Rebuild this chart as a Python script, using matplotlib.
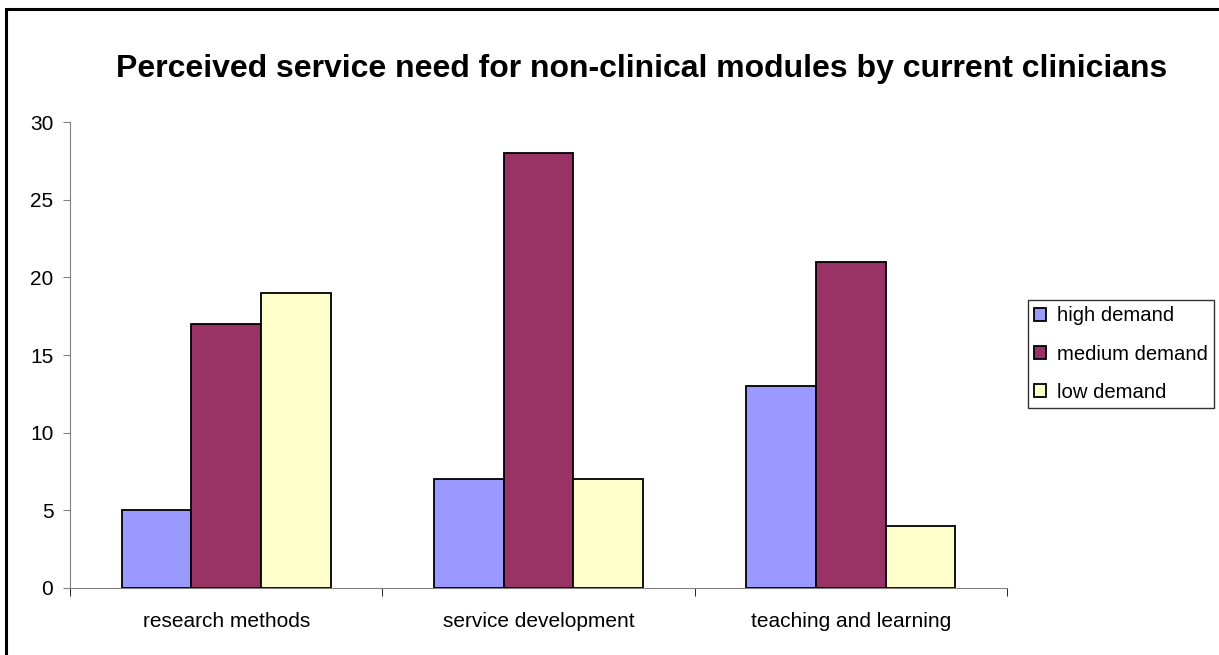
import numpy as np
import matplotlib.pyplot as plt
from matplotlib.patches import Rectangle

plt.rcParams['font.family'] = ['Liberation Sans', 'DejaVu Sans']

categories = ["research methods", "service development", "teaching and learning"]
series_names = ["high demand", "medium demand", "low demand"]
high = [5, 7, 13]
medium = [17, 28, 21]
low = [19, 7, 4]
colors = ["#9999ff", "#993366", "#ffffcc"]


def main():
    fig = plt.figure(figsize=(12.19, 6.55), dpi=100)
    ax = fig.add_axes([0.0574, 0.1023, 0.7688, 0.7114])

    x = np.arange(len(categories))
    width = 0.223
    for i, (vals, name) in enumerate(zip([high, medium, low], series_names)):
        ax.bar(x + (i - 1) * width, vals, width, color=colors[i],
               edgecolor="black", linewidth=1.3, label=name, zorder=3)

    ax.set_xlim(-0.5, len(categories) - 0.5)
    ax.set_ylim(0, 30)
    ax.set_yticks(range(0, 31, 5))
    ax.set_xticks(x)
    ax.set_xticklabels(categories)
    ax.set_xticks(np.arange(-0.5, len(categories)), minor=True)
    ax.tick_params(axis="x", which="major", length=0, pad=17, labelsize=15)
    ax.tick_params(axis="x", which="minor", length=6, direction="out", color="black")
    ax.tick_params(axis="y", length=5, direction="out", color="#808080", labelsize=15, pad=7)
    for s in ["top", "right"]:
        ax.spines[s].set_visible(False)
    for s in ["left", "bottom"]:
        ax.spines[s].set_color("#808080")

    fig.suptitle("Perceived service need for non-clinical modules by current clinicians",
                 fontsize=23, fontweight="bold", x=0.526, y=0.918)

    leg = fig.legend(loc="center left", bbox_to_anchor=(0.8435, 0.4595),
                     fontsize=14.6, frameon=True, fancybox=False, edgecolor="black",
                     handlelength=0.6, handleheight=0.6, handletextpad=0.5,
                     labelspacing=0.95, borderpad=0.3, borderaxespad=0)
    leg.get_frame().set_linewidth(1.0)

    # outer chart border
    fig.patches.append(Rectangle((6 / 1219, -0.1), 1.2, 1.1 - 9 / 655,
                                 transform=fig.transFigure, fill=False,
                                 edgecolor="black", linewidth=2.2))

    fig.savefig("out.png", dpi=100)


if __name__ == "__main__":
    main()
